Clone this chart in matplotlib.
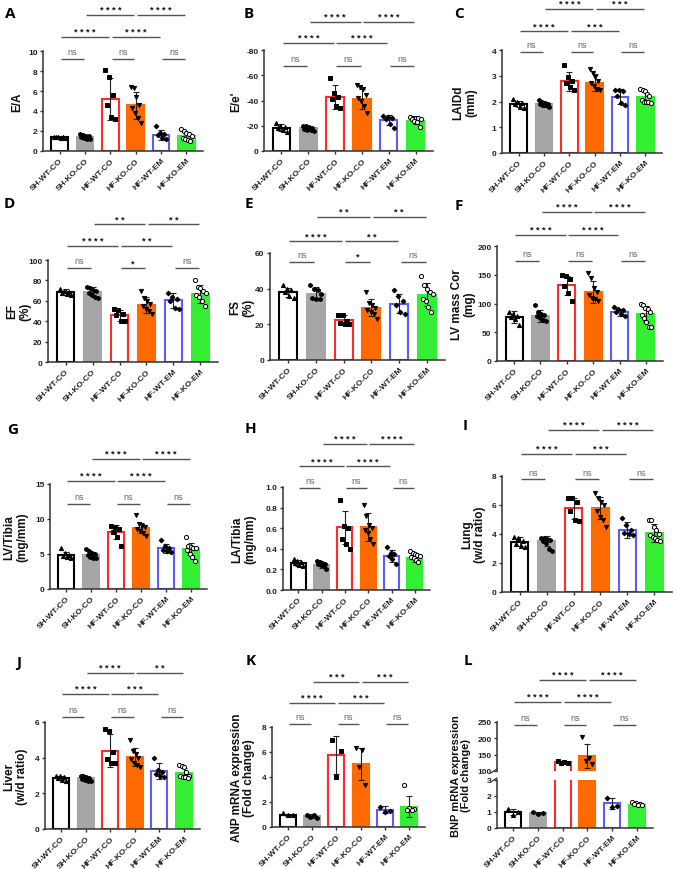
import numpy as np
import matplotlib
matplotlib.use('Agg')
import matplotlib.pyplot as plt
from matplotlib.transforms import blended_transform_factory

plt.rcParams['font.family'] = ['Liberation Sans', 'DejaVu Sans']

W, H = 676, 870

groups = ['SH-WT-CO', 'SH-KO-CO', 'HF-WT-CO', 'HF-KO-CO', 'HF-WT-EM', 'HF-KO-EM']
face = ['white', '#A6A6A6', 'white', '#FF6A00', 'white', '#33EE33']
edge = ['black', '#A6A6A6', '#FF2B2B', '#FF6A00', '#5B5BFF', '#33EE33']
markers = ['^', 'h', 's', 'v', 'D', 'o']
mface = ['black', 'black', 'black', 'black', 'black', 'white']

# ---- data (mean, SD, individual points) ----
A_mean = [1.38, 1.42, 5.2, 4.6, 1.65, 1.5]
A_sd = [0.08, 0.17, 2.1, 1.35, 0.5, 0.38]
A_pts = [[1.45, 1.42, 1.4, 1.38, 1.35, 1.32],
         [1.7, 1.6, 1.55, 1.5, 1.4, 1.3, 1.25, 1.2],
         [8.1, 7.4, 5.6, 4.6, 3.4, 3.2],
         [6.4, 6.3, 5.4, 4.6, 4.3, 3.8, 3.3, 2.8],
         [2.5, 1.8, 1.7, 1.65, 1.3, 1.2],
         [2.2, 2.0, 1.8, 1.7, 1.5, 1.3, 1.2, 1.1, 1.0]]

B_mean = [18.5, 18.0, 43, 41, 24.6, 24]
B_sd = [2.5, 1.3, 9.5, 8.0, 4.0, 2.5]
B_pts = [[22, 20, 19, 18, 17, 15],
         [20, 19.5, 19, 18, 17.5, 17, 16.5, 16],
         [58, 46, 43, 41, 36, 34],
         [52, 51, 49, 44, 42, 40, 36, 30],
         [28, 27, 26, 25, 21, 18],
         [27, 26.5, 26, 26, 25, 25, 24, 23, 19]]

C_mean = [1.9, 1.9, 2.78, 2.72, 2.19, 2.16]
C_sd = [0.13, 0.1, 0.37, 0.33, 0.28, 0.2]
C_pts = [[2.1, 2.0, 1.95, 1.9, 1.8, 1.75],
         [2.05, 2.0, 1.95, 1.9, 1.9, 1.85, 1.85, 1.8],
         [3.4, 2.95, 2.8, 2.7, 2.55, 2.45],
         [3.25, 3.1, 2.95, 2.8, 2.7, 2.6, 2.5, 2.45],
         [2.45, 2.45, 2.4, 2.2, 1.95, 1.85],
         [2.5, 2.45, 2.4, 2.3, 2.2, 2.05, 2.0, 2.0, 2.0, 1.95]]

D_mean = [69, 69, 45.6, 56, 60.3, 66.8]
D_sd = [3, 4.5, 5, 7.5, 7.5, 8.5]
D_pts = [[72, 70, 69, 68, 67, 66],
         [74, 73, 71, 70, 68, 66, 64, 63],
         [52, 51, 47, 46, 40, 40],
         [70, 63, 60, 57, 55, 52, 50, 47],
         [68, 64, 62, 60, 53, 52],
         [80, 74, 73, 70, 68, 66, 64, 60, 55]]

E_mean = [38, 37.2, 22.5, 29.2, 31.6, 36.6]
E_sd = [2.5, 3.5, 2.8, 4.8, 5.5, 6.5]
E_pts = [[42, 40, 39, 38, 36, 35],
         [42, 40, 39.5, 37, 35, 34, 34],
         [25.5, 25, 22, 21, 20, 20],
         [38, 32, 31, 29, 28, 27, 26, 23],
         [39, 36, 33, 31, 27, 26],
         [47, 42, 40, 38, 37, 34, 33, 30, 27]]

F_mean = [76.5, 78, 131.6, 120, 85, 82]
F_sd = [11, 11, 17, 19, 6, 14]
F_pts = [[86, 82, 78, 77, 73, 62],
         [98, 85, 82, 80, 78, 75, 72, 70],
         [150, 147, 143, 130, 118, 105],
         [153, 145, 127, 120, 115, 110, 108, 105],
         [94, 90, 88, 85, 82, 78],
         [100, 98, 92, 90, 85, 80, 75, 68, 60, 60]]

G_mean = [4.9, 4.9, 8.1, 8.7, 5.8, 5.7]
G_sd = [0.45, 0.4, 1.0, 0.75, 0.6, 0.85]
G_pts = [[5.8, 5.2, 4.9, 4.7, 4.6, 4.5],
         [5.7, 5.5, 5.2, 5.0, 4.8, 4.6, 4.5, 4.4],
         [9.0, 8.9, 8.6, 8.2, 7.5, 6.2],
         [10.6, 9.3, 9.0, 8.8, 8.6, 8.3, 8.0, 7.6],
         [7.0, 6.2, 5.9, 5.6, 5.4, 5.3],
         [7.4, 6.2, 6.0, 5.9, 5.8, 5.6, 5.0, 4.6, 4.0]]

H_mean = [0.26, 0.245, 0.61, 0.61, 0.33, 0.31]
H_sd = [0.03, 0.03, 0.16, 0.135, 0.06, 0.035]
H_pts = [[0.30, 0.28, 0.27, 0.26, 0.24, 0.23],
         [0.28, 0.27, 0.26, 0.25, 0.25, 0.24, 0.23, 0.20],
         [0.87, 0.62, 0.60, 0.50, 0.45, 0.40],
         [0.83, 0.72, 0.63, 0.60, 0.58, 0.55, 0.50, 0.45],
         [0.42, 0.36, 0.35, 0.33, 0.30, 0.25],
         [0.38, 0.36, 0.35, 0.34, 0.33, 0.32, 0.31, 0.29, 0.27]]

I_mean = [3.47, 3.5, 5.76, 5.78, 4.25, 4.07]
I_sd = [0.3, 0.35, 0.7, 0.75, 0.55, 0.6]
I_pts = [[3.8, 3.7, 3.5, 3.3, 3.2, 3.1],
         [3.75, 3.7, 3.65, 3.6, 3.5, 3.35, 3.0, 2.8],
         [6.5, 6.5, 6.2, 5.6, 5.0, 4.9],
         [6.8, 6.5, 6.2, 6.0, 5.6, 5.2, 5.0, 4.5],
         [5.1, 4.6, 4.3, 4.1, 4.0, 3.9],
         [5.0, 5.0, 4.5, 4.3, 4.0, 3.9, 3.8, 3.7, 3.6, 3.5]]

J_mean = [2.85, 2.85, 4.4, 4.03, 3.25, 3.13]
J_sd = [0.1, 0.1, 0.9, 0.5, 0.45, 0.28]
J_pts = [[3.0, 2.95, 2.9, 2.85, 2.75, 2.7],
         [3.0, 2.95, 2.9, 2.85, 2.8, 2.75, 2.7, 2.7],
         [5.6, 5.5, 4.3, 3.9, 3.7, 3.7],
         [5.0, 4.4, 4.2, 4.0, 3.9, 3.7, 3.6, 3.5],
         [4.0, 3.3, 3.2, 3.1, 3.0, 2.9],
         [3.6, 3.55, 3.5, 3.2, 3.0, 2.95, 2.9, 2.9, 2.85]]

K_mean = [1.0, 0.87, 5.78, 5.05, 1.39, 1.63]
K_sd = [0.08, 0.15, 1.5, 1.3, 0.3, 0.85]
K_pts = [[1.1, 1.0, 0.95],
         [1.0, 0.95, 0.8, 0.7],
         [7.0, 6.1, 4.0],
         [6.3, 6.2, 4.8, 3.4],
         [1.6, 1.3, 1.2],
         [3.4, 1.5, 1.45, 1.4, 1.35]]

L_mean = [1.0, 0.92, 127.5, 146, 1.54, 1.46]
L_sd = [0.2, 0.06, 3, 38, 0.35, 0.08]
L_pts = [[1.2, 1.0, 0.8],
         [1.0, 0.95, 0.9],
         [130, 128, 126, 125],
         [205, 140, 130, 120],
         [1.9, 1.4, 1.3],
         [1.6, 1.55, 1.5, 1.5, 1.45, 1.45]]

# significance labels: ns row (0-1, 2-3, 4-5), row1 (0-2, 2-4), row2 (1-3, 3-5)
sig_ns = {'D': ['ns', '*', 'ns'], 'E': ['ns', '*', 'ns']}
sig_r1 = {'A': ['****', '****'], 'B': ['****', '****'], 'C': ['****', '***'],
          'D': ['****', '**'], 'E': ['****', '**'], 'F': ['****', '****'],
          'G': ['****', '****'], 'H': ['****', '****'], 'I': ['****', '***'],
          'J': ['****', '***'], 'K': ['****', '***'], 'L': ['****', '****']}
sig_r2 = {'A': ['****', '****'], 'B': ['****', '****'], 'C': ['****', '***'],
          'D': ['**', '**'], 'E': ['**', '**'], 'F': ['****', '****'],
          'G': ['****', '****'], 'H': ['****', '****'], 'I': ['****', '****'],
          'J': ['****', '**'], 'K': ['***', '***'], 'L': ['****', '****']}


def box(x0, y0, x1, y1):
    return [x0 / W, 1 - y1 / H, (x1 - x0) / W, (y1 - y0) / H]


def style_ax(ax, bottom=True):
    for s in ['top', 'right']:
        ax.spines[s].set_visible(False)
    for s in ['left', 'bottom']:
        ax.spines[s].set_color('#333333')
        ax.spines[s].set_linewidth(1.1)
    if not bottom:
        ax.spines['bottom'].set_visible(False)
    ax.tick_params(axis='both', length=2.5, width=1, color='#333333',
                   labelsize=6, pad=1.5, labelcolor='#222222')
    for lab in ax.get_yticklabels():
        lab.set_fontweight('bold')
    ax.set_xlim(-0.65, 5.65)


def draw_data(ax, means, sds, pts):
    x = np.arange(len(groups))
    ax.bar(x, means, width=0.65, color=face, edgecolor=edge, linewidth=1.5, zorder=2)
    ax.errorbar(x, means, yerr=sds, fmt='none', ecolor='#222222', elinewidth=0.8,
                capsize=2.5, capthick=0.8, zorder=3)
    for i, p in enumerate(pts):
        n = len(p)
        offs = np.linspace(-0.2, 0.2, n)
        offs = np.concatenate([offs[::2], offs[1::2]])
        ax.plot(i + offs, p, linestyle='none', marker=markers[i], ms=3.0 if markers[i] != 'D' else 2.4,
                mfc=mface[i], mec='black', mew=0.7, zorder=4)


def set_xlabels(ax):
    ax.set_xticks(np.arange(len(groups)))
    ax.set_xticklabels(groups, rotation=45, ha='right', rotation_mode='anchor',
                       fontsize=5.8, fontweight='bold', color='#222222')


def bracket(ax, a, b, yf, label):
    tr = blended_transform_factory(ax.transData, ax.transAxes)
    ax.plot([a + 0.05, b - 0.05], [yf, yf], transform=tr, color='#555555', lw=1.0,
            clip_on=False, solid_capstyle='butt')
    if label == 'ns':
        ax.annotate('ns', xy=((a + b) / 2, yf), xycoords=tr, xytext=(0, 2),
                    textcoords='offset points', ha='center', va='bottom',
                    fontsize=6.5, color='#666666', annotation_clip=False)
    else:
        ax.annotate(' '.join(label), xy=((a + b) / 2, yf), xycoords=tr, xytext=(0, 0.5),
                    textcoords='offset points', ha='center', va='bottom',
                    fontsize=6.5, fontweight='bold', color='#111111', annotation_clip=False)


def add_sigs(ax, key, y_ns, y_r1, y_r2):
    ns = sig_ns.get(key, ['ns', 'ns', 'ns'])
    for (a, b), lab in zip([(0, 1), (2, 3), (4, 5)], ns):
        bracket(ax, a, b, y_ns, lab)
    for (a, b), lab in zip([(0, 2), (2, 4)], sig_r1[key]):
        bracket(ax, a, b, y_r1, lab)
    for (a, b), lab in zip([(1, 3), (3, 5)], sig_r2[key]):
        bracket(ax, a, b, y_r2, lab)


fig = plt.figure(figsize=(W / 100, H / 100), dpi=100)

panels = [
    # key, box(px), mean, sd, pts, ylim, yticks, ytlabels, ylabel, ylabel_x, sig rows
    ('A', (43, 52, 203, 152), A_mean, A_sd, A_pts, (0, 10), [0, 2, 4, 6, 8, 10], None, 'E/A', 17, (0.92, 1.14, 1.36)),
    ('B', (264, 51, 433, 152), B_mean, B_sd, B_pts, (0, 80), [0, 20, 40, 60, 80],
     ['0', '-20', '-40', '-60', '-80'], "E/e'", 236, (0.84, 1.07, 1.28)),
    ('C', (502, 51, 662, 154), C_mean, C_sd, C_pts, (0, 4), [0, 1, 2, 3, 4], None, 'LAIDd\n(mm)', 465, (0.98, 1.18, 1.40)),
    ('D', (48, 261, 218, 363), D_mean, D_sd, D_pts, (0, 100), [0, 20, 40, 60, 80, 100], None, 'EF\n(%)', 19, (0.92, 1.14, 1.35)),
    ('E', (270, 254, 445, 361), E_mean, E_sd, E_pts, (0, 60), [0, 20, 40, 60], None, 'FS\n(%)', 242, (0.92, 1.11, 1.34)),
    ('F', (497, 247, 663, 362), F_mean, F_sd, F_pts, (0, 200), [0, 50, 100, 150, 200], None, 'LV mass Cor\n(mg)', 463, (0.87, 1.10, 1.30)),
    ('G', (50, 485, 207, 590), G_mean, G_sd, G_pts, (0, 15), [0, 5, 10, 15], None, 'LV/Tibia\n(mg/mm)', 16, (0.81, 1.03, 1.24)),
    ('H', (283, 488, 430, 591), H_mean, H_sd, H_pts, (0, 1.0), [0, 0.2, 0.4, 0.6, 0.8, 1.0], None, 'LA/Tibia\n(mg/mm)', 244, (0.99, 1.20, 1.42)),
    ('I', (502, 477, 672, 593), I_mean, I_sd, I_pts, (0, 8), [0, 2, 4, 6, 8], None, 'Lung\n(w/d ratio)', 474, (0.97, 1.19, 1.40)),
    ('J', (45, 723, 200, 830), J_mean, J_sd, J_pts, (0, 6), [0, 2, 4, 6], None, 'Liver\n(w/d ratio)', 16, (1.05, 1.26, 1.46)),
    ('K', (272, 728, 425, 828), K_mean, K_sd, K_pts, (0, 8), [0, 2, 4, 6, 8], None, 'ANP mRNA expression\n(Fold change)', 243, (1.03, 1.24, 1.45)),
]

for key, bx, mean, sd, pts, ylim, yt, ytl, ylab, lx, sy in panels:
    ax = fig.add_axes(box(*bx))
    draw_data(ax, mean, sd, pts)
    ax.set_ylim(*ylim)
    ax.set_yticks(yt)
    if ytl is not None:
        ax.set_yticklabels(ytl)
    elif key == 'H':
        ax.set_yticklabels(['%.1f' % v for v in yt])
    set_xlabels(ax)
    style_ax(ax)
    add_sigs(ax, key, *sy)
    fig.text(lx / W, 1 - (bx[1] + bx[3]) / 2 / H, ylab, rotation=90, ha='center', va='center',
             fontsize=8.5, fontweight='bold', color='#111111', linespacing=1.1)

# ---- panel L with broken axis ----
axL_lo = fig.add_axes(box(497, 781, 653, 829))
axL_hi = fig.add_axes(box(497, 723, 653, 772), sharex=axL_lo)
for ax in (axL_lo, axL_hi):
    draw_data(ax, L_mean, L_sd, L_pts)
axL_lo.set_ylim(0, 3)
axL_lo.set_yticks([0, 1, 2, 3])
axL_hi.set_ylim(100, 250)
axL_hi.set_yticks([100, 150, 200, 250])
set_xlabels(axL_lo)
style_ax(axL_lo)
style_ax(axL_hi, bottom=False)
axL_hi.tick_params(axis='x', bottom=False, labelbottom=False)
for ax, yy in ((axL_lo, 1.0), (axL_hi, 0.0)):
    ax.plot([-0.04, 0.0], [yy - 0.04, yy + 0.04], transform=ax.transAxes, color='#333333',
            lw=0.9, clip_on=False)
add_sigs(axL_hi, 'L', 0.94, 1.41, 1.86)
fig.text(461 / W, 1 - 776 / H, 'BNP mRNA expression\n(Fold change)', rotation=90,
         ha='center', va='center', fontsize=8, fontweight='bold', color='#111111', linespacing=1.05)

# ---- panel letters ----
letters = ['A', 'B', 'C', 'D', 'E', 'F', 'G', 'H', 'I', 'J', 'K', 'L']
letter_x = [10, 249, 459, 9, 249, 459, 13, 251, 465, 19, 251, 468]
letter_y = [14, 14, 14, 204, 204, 206, 430, 429, 426, 663, 661, 661]
for t, lx, ly in zip(letters, letter_x, letter_y):
    fig.text(lx / W, 1 - ly / H, t, ha='center', va='center', fontsize=11,
             fontweight='bold', family=['Open Sans', 'DejaVu Sans'])

fig.savefig('out.png', dpi=100, facecolor='white')
